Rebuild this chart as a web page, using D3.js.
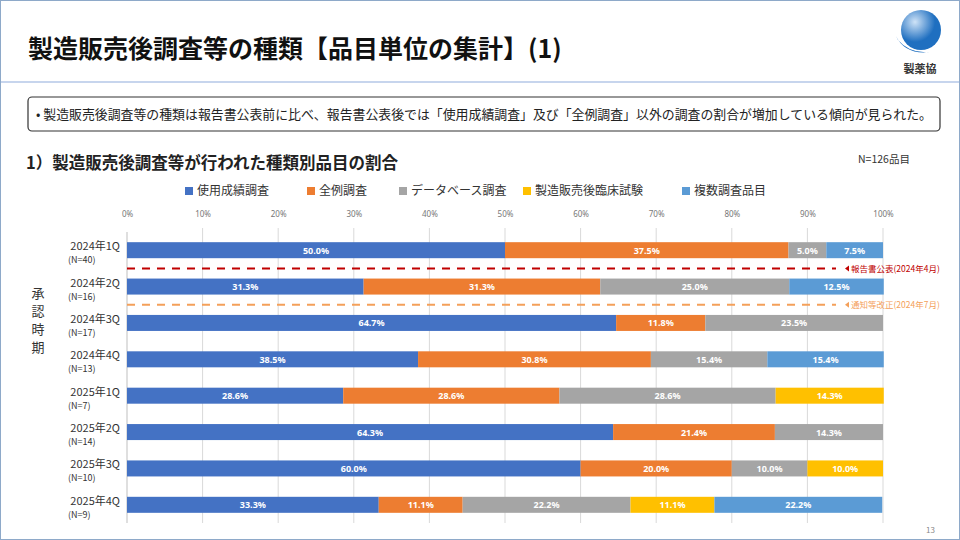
<!DOCTYPE html>
<html><head><meta charset="utf-8">
<script src="https://cdn.jsdelivr.net/npm/d3@7"></script>
<style>
body{margin:0;background:#fff;font-family:"Noto Sans CJK JP","Noto Sans",sans-serif;}
</style></head><body>
<script>
// data
var periods = ["2024年1Q","2024年2Q","2024年3Q","2024年4Q","2025年1Q","2025年2Q","2025年3Q","2025年4Q"];
var counts = ["(N=40)","(N=16)","(N=17)","(N=13)","(N=7)","(N=14)","(N=10)","(N=9)"];
var seriesNames = ["使用成績調査","全例調査","データベース調査","製造販売後臨床試験","複数調査品目"];
var shiyou = [50.0,31.3,64.7,38.5,28.6,64.3,60.0,33.3];
var zenrei = [37.5,31.3,11.8,30.8,28.6,21.4,20.0,11.1];
var dbase  = [5.0,25.0,23.5,15.4,28.6,14.3,10.0,22.2];
var rinsho = [0,0,0,0,14.3,0,10.0,11.1];
var fukusu = [7.5,12.5,0,15.4,0,0,0,22.2];
var colors = ["#4472C4","#ED7D31","#A5A5A5","#FFC000","#5B9BD5"];
var ticks = [0,10,20,30,40,50,60,70,80,90,100];

var W = 960, H = 540;
var svg = d3.select("body").append("svg").attr("width", W).attr("height", H);

// slide frame and header
svg.append("rect").attr("x",0.5).attr("y",0.5).attr("width",W-1).attr("height",H-1)
  .attr("fill","none").attr("stroke","#8EA9C9");
svg.append("line").attr("x1",1).attr("x2",W-1).attr("y1",82).attr("y2",82).attr("stroke","#B4C7E7").attr("stroke-width",1.5);
svg.append("text").attr("x",28).attr("y",58).attr("font-size",25).attr("font-weight","bold").attr("fill","#111")
  .text("製造販売後調査等の種類【品目単位の集計】(1)");
// logo
var lg = svg.append("g");
var grad = svg.append("defs").append("radialGradient").attr("id","gl").attr("cx","35%").attr("cy","30%");
grad.append("stop").attr("offset","0%").attr("stop-color","#CFE3F7");
grad.append("stop").attr("offset","100%").attr("stop-color","#1F6FC0");
lg.append("circle").attr("cx",921).attr("cy",30).attr("r",20).attr("fill","url(#gl)");
lg.append("path").attr("d","M896,36 Q905,55 930,52 Q910,54 898,40Z").attr("fill","#1F6FC0");
lg.append("text").attr("x",920).attr("y",73).attr("text-anchor","middle").attr("font-size",11).attr("font-weight","bold").attr("fill","#333").text("製薬協");

// callout box
svg.append("rect").attr("x",28).attr("y",97).attr("width",912).attr("height",34).attr("rx",4)
  .attr("fill","#fff").attr("stroke","#333").attr("stroke-width",1.2);
svg.append("text").attr("x",36).attr("y",119).attr("font-size",13).attr("fill","#222")
  .attr("textLength",896).attr("lengthAdjust","spacingAndGlyphs")
  .text("•  製造販売後調査等の種類は報告書公表前に比べ、報告書公表後では「使用成績調査」及び「全例調査」以外の調査の割合が増加している傾向が見られた。");

svg.append("text").attr("x",26).attr("y",169).attr("font-size",16.5).attr("font-weight","bold").attr("fill","#222")
  .text("1）製造販売後調査等が行われた種類別品目の割合");
svg.append("text").attr("x",858).attr("y",163).attr("font-size",10.5).attr("fill","#333").text("N=126品目");

// legend
var legX = [185,307,399,523,682];
seriesNames.forEach(function(n,i){
  svg.append("rect").attr("x",legX[i]).attr("y",187).attr("width",8).attr("height",8).attr("fill",colors[i]);
  svg.append("text").attr("x",legX[i]+12).attr("y",195).attr("font-size",12).attr("fill","#333").text(n);
});

// scales
var x = d3.scaleLinear().domain([0,100]).range([127,883]);
var y = d3.scaleBand().domain(periods).range([232,523]).paddingInner(0.56).paddingOuter(0.28);

var g = svg.append("g");
g.append("g").attr("transform","translate(0,220)")
  .call(d3.axisTop(x).tickValues(ticks).tickFormat(function(d){return d+"%";}).tickSize(0))
  .call(function(a){a.select(".domain").remove();
    a.selectAll("text").attr("font-size",8).attr("fill","#777").attr("font-family","Noto Sans, sans-serif");});
ticks.forEach(function(t){
  if(t===0) return;
  g.append("line").attr("x1",x(t)).attr("x2",x(t)).attr("y1",228).attr("y2",523).attr("stroke","#D9D9D9");
});
g.append("line").attr("x1",x(0)).attr("x2",x(0)).attr("y1",232).attr("y2",523).attr("stroke","#BFBFBF");

var rows = periods.map(function(p,i){ return {p:p, v:[shiyou[i],zenrei[i],dbase[i],rinsho[i],fukusu[i]]}; });
rows.forEach(function(r){
  var acc = 0;
  r.v.forEach(function(v,k){
    if(v>0){
      g.append("rect").attr("x",x(acc)).attr("y",y(r.p)).attr("width",x(acc+v)-x(acc)).attr("height",y.bandwidth())
        .attr("fill",colors[k]);
      g.append("text").attr("x",(x(acc)+x(acc+v))/2).attr("y",y(r.p)+y.bandwidth()/2+3.5)
        .attr("text-anchor","middle").attr("font-size",9).attr("font-weight","bold").attr("fill","#fff")
        .attr("font-family","Noto Sans, sans-serif").text(v.toFixed(1)+"%");
    }
    acc += v;
  });
});

// category labels
periods.forEach(function(p,i){
  var cy = y(p)+y.bandwidth()/2;
  svg.append("text").attr("x",120).attr("y",cy).attr("text-anchor","end").attr("font-size",11).attr("fill","#333").text(p);
  svg.append("text").attr("x",68).attr("y",cy+13).attr("font-size",9).attr("fill","#333").text(counts[i]);
});
["承","認","時","期"].forEach(function(c,i){
  svg.append("text").attr("x",38).attr("y",298+i*18).attr("text-anchor","middle").attr("font-size",13).attr("fill","#333").text(c);
});

// event lines
var ev = [{yy:(y(periods[0])+y.bandwidth()+y(periods[1]))/2, c:"#C00000", t:"報告書公表(2024年4月)"},
          {yy:(y(periods[1])+y.bandwidth()+y(periods[2]))/2, c:"#F4A05A", t:"通知等改正(2024年7月)"}];
ev.forEach(function(e){
  svg.append("line").attr("x1",x(0)).attr("x2",x(100)-47).attr("y1",e.yy).attr("y2",e.yy)
    .attr("stroke",e.c).attr("stroke-width",2).attr("stroke-dasharray","8,7");
  svg.append("path").attr("d","M"+(x(100)-38)+","+e.yy+" l4,-3 v6z").attr("fill",e.c);
  svg.append("text").attr("x",x(100)-32).attr("y",e.yy+3.5).attr("font-size",8.5).attr("fill",e.c).text(e.t);
});

svg.append("text").attr("x",935).attr("y",533).attr("text-anchor","end").attr("font-size",8).attr("fill","#888").text("13");
</script></body></html>
